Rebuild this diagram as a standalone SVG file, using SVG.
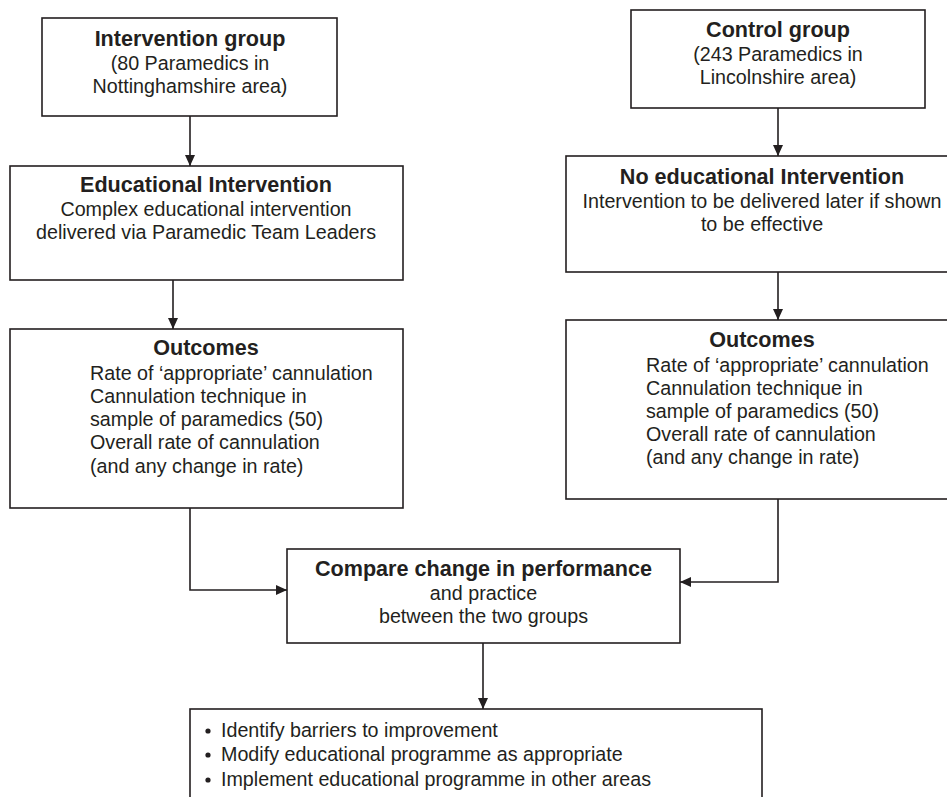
<svg xmlns="http://www.w3.org/2000/svg" width="947" height="797" viewBox="0 0 947 797">
<defs>
<marker id="arr" markerUnits="userSpaceOnUse" markerWidth="11" markerHeight="10" refX="11" refY="5" orient="auto">
<path d="M0,0 L11,5 L0,10 z" fill="#231f20"/>
</marker>
<style>
.box{fill:#fff;stroke:#231f20;stroke-width:1.6}
.t{font-family:"Liberation Sans",Arial,sans-serif;font-size:19.7px;fill:#231f20}
.b{font-family:"Liberation Sans",Arial,sans-serif;font-size:21.6px;font-weight:bold;fill:#231f20}
.c{text-anchor:middle}
.conn{fill:none;stroke:#231f20;stroke-width:1.6}
</style>
</defs>
<rect width="947" height="797" fill="#fff"/>
<g id="connectors">
<line class="conn" x1="190" y1="116" x2="190" y2="166" marker-end="url(#arr)"/>
<line class="conn" x1="173" y1="280" x2="173" y2="329" marker-end="url(#arr)"/>
<line class="conn" x1="778" y1="108" x2="778" y2="156" marker-end="url(#arr)"/>
<line class="conn" x1="778" y1="272" x2="778" y2="320" marker-end="url(#arr)"/>
<polyline class="conn" points="190,508 190,590 287,590" marker-end="url(#arr)"/>
<polyline class="conn" points="778,499 778,582 680,582" marker-end="url(#arr)"/>
<line class="conn" x1="483" y1="643" x2="483" y2="709" marker-end="url(#arr)"/>
</g>
<g id="intervention-group">
<rect class="box" x="42" y="18" width="295" height="98"/>
<text class="b c" x="190" y="46">Intervention group</text>
<text class="t c" x="190" y="70">(80 Paramedics in</text>
<text class="t c" x="190" y="93">Nottinghamshire area)</text>
</g>
<g id="educational-intervention">
<rect class="box" x="10" y="166" width="393" height="114"/>
<text class="b c" x="206" y="192">Educational Intervention</text>
<text class="t c" x="206" y="216">Complex educational intervention</text>
<text class="t c" x="206" y="239">delivered via Paramedic Team Leaders</text>
</g>
<g id="outcomes-left">
<rect class="box" x="10" y="329" width="393" height="179"/>
<text class="b c" x="206" y="355">Outcomes</text>
<text class="t" x="90" y="380">Rate of ‘appropriate’ cannulation</text>
<text class="t" x="90" y="403">Cannulation technique in</text>
<text class="t" x="90" y="426">sample of paramedics (50)</text>
<text class="t" x="90" y="449">Overall rate of cannulation</text>
<text class="t" x="90" y="473">(and any change in rate)</text>
</g>
<g id="control-group">
<rect class="box" x="631" y="10" width="294" height="98"/>
<text class="b c" x="778" y="37">Control group</text>
<text class="t c" x="778" y="61">(243 Paramedics in</text>
<text class="t c" x="778" y="84">Lincolnshire area)</text>
</g>
<g id="no-educational-intervention">
<rect class="box" x="566" y="156" width="400" height="116"/>
<text class="b c" x="762" y="184">No educational Intervention</text>
<text class="t c" x="762" y="208">Intervention to be delivered later if shown</text>
<text class="t c" x="762" y="231">to be effective</text>
</g>
<g id="outcomes-right">
<rect class="box" x="566" y="320" width="400" height="179"/>
<text class="b c" x="762" y="347">Outcomes</text>
<text class="t" x="646" y="372">Rate of ‘appropriate’ cannulation</text>
<text class="t" x="646" y="395">Cannulation technique in</text>
<text class="t" x="646" y="418">sample of paramedics (50)</text>
<text class="t" x="646" y="441">Overall rate of cannulation</text>
<text class="t" x="646" y="464">(and any change in rate)</text>
</g>
<g id="compare">
<rect class="box" x="287" y="549" width="393" height="94"/>
<text class="b c" x="483.5" y="576">Compare change in performance</text>
<text class="t c" x="483.5" y="600">and practice</text>
<text class="t c" x="483.5" y="623">between the two groups</text>
</g>
<g id="actions">
<rect class="box" x="190" y="709" width="572" height="110"/>
<circle cx="208" cy="731" r="2.6" fill="#231f20"/>
<circle cx="208" cy="755" r="2.6" fill="#231f20"/>
<circle cx="208" cy="780" r="2.6" fill="#231f20"/>
<text class="t" x="221" y="737">Identify barriers to improvement</text>
<text class="t" x="221" y="761">Modify educational programme as appropriate</text>
<text class="t" x="221" y="786">Implement educational programme in other areas</text>
</g>
</svg>
